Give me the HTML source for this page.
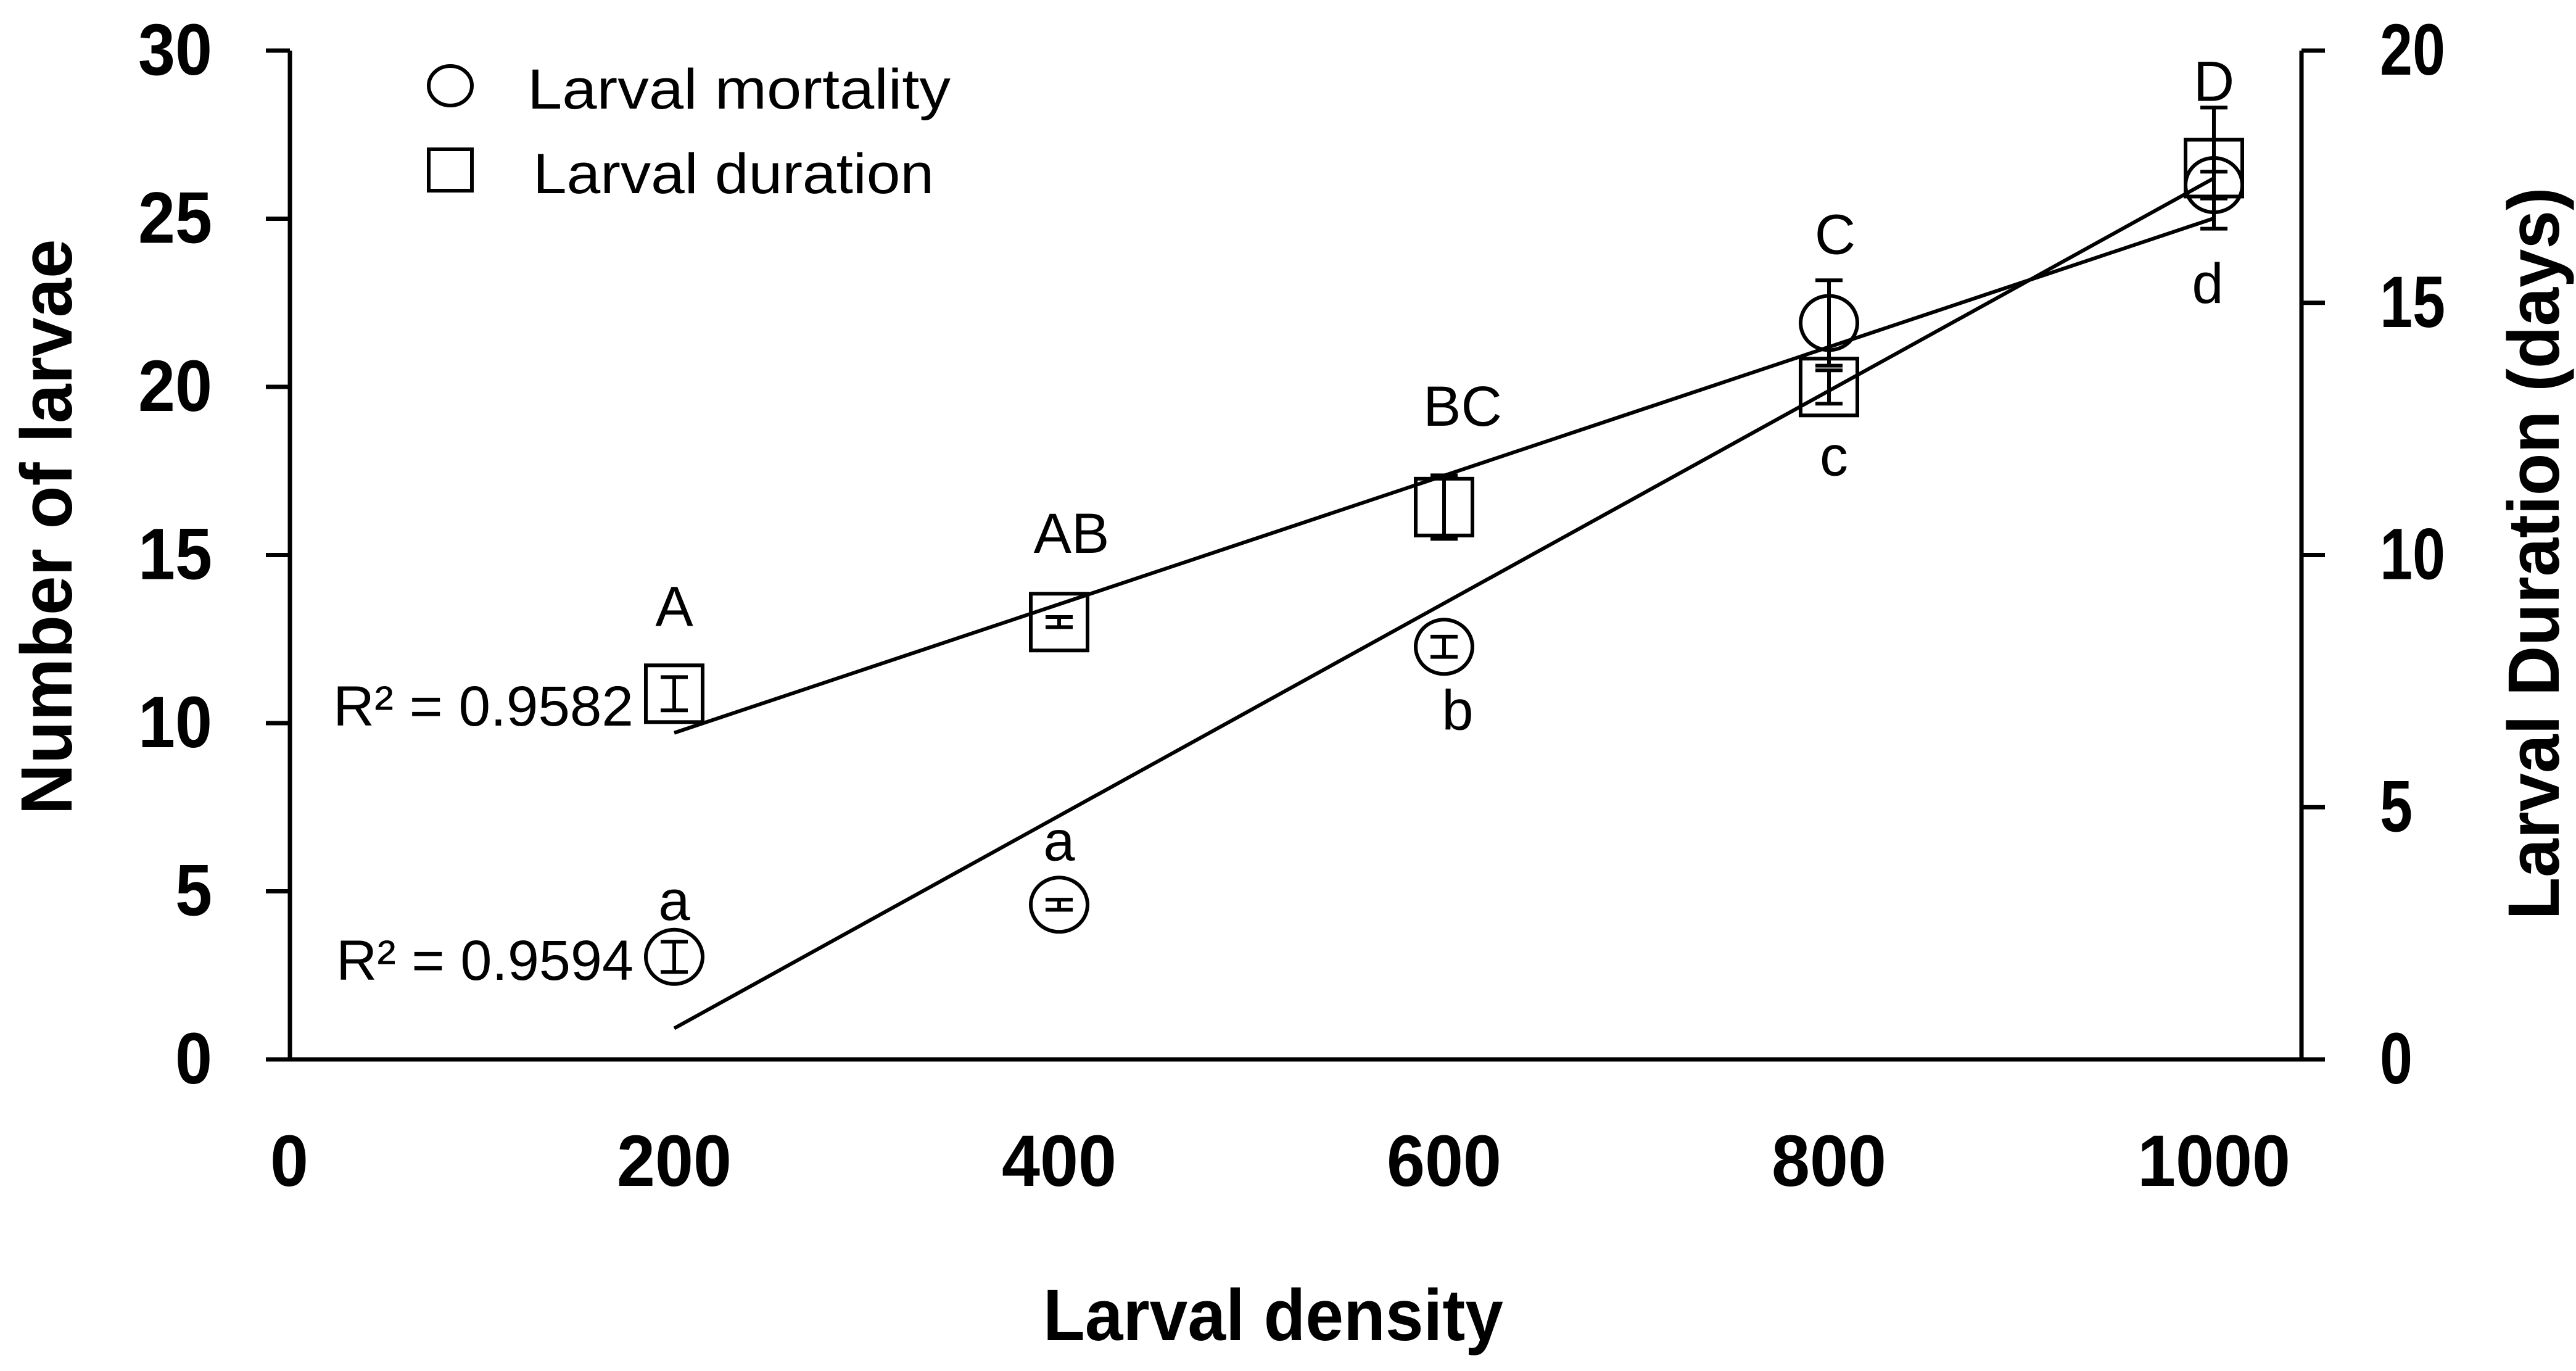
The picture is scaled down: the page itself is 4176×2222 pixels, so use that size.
<!DOCTYPE html>
<html><head><meta charset="utf-8"><style>
html,body{margin:0;padding:0;background:#fff;}
svg{display:block;}
text{font-family:"Liberation Sans",sans-serif;fill:#000;}
</style></head><body>
<svg id="chart" width="4176" height="2222" viewBox="0 0 4176 2222" xmlns="http://www.w3.org/2000/svg">
<g id="axes"></g>
<g id="lines"></g>
<g id="marks"></g>
<g id="labels"></g>
</svg>
<script>
const densities = [200, 400, 600, 800, 1000];
const mortality = [3.05, 4.6, 12.27, 21.9, 26.0];
const mortalityErr = [0.45, 0.15, 0.3, 1.27, 0.4];
const duration = [7.25, 8.67, 10.95, 13.33, 17.67];
const durationErr = [0.33, 0.1, 0.63, 0.33, 1.2];
const upperLetters = ["A", "AB", "BC", "C", "D"];
const lowerLetters = ["a", "a", "b", "c", "d"];
const xTicks = [0, 200, 400, 600, 800, 1000];
const yLeftTicks = [0, 5, 10, 15, 20, 25, 30];
const yRightTicks = [0, 5, 10, 15, 20];

const NS = "http://www.w3.org/2000/svg";
const X0 = 469, XS = 3.12;
const Y0 = 1717, YT = 82;
function xs(v){ return X0 + v*XS; }
function yl(v){ return Y0 - v*(Y0-YT)/30; }
function yr(v){ return Y0 - v*(Y0-YT)/20; }
function mk(tag, attrs, parent){
  const e = document.createElementNS(NS, tag);
  for (const k in attrs) e.setAttribute(k, attrs[k]);
  parent.appendChild(e);
  return e;
}
const axes = document.getElementById('axes');
const lines = document.getElementById('lines');
const marks = document.getElementById('marks');
const labels = document.getElementById('labels');

let a;
a = mk('line', {x1:470, y1:YT, x2:470, y2:Y0, stroke:'#000', 'stroke-width':7}, axes);


a = mk('line', {x1:3731, y1:YT, x2:3731, y2:Y0, stroke:'#000', 'stroke-width':7}, axes);


a = mk('line', {x1:431, y1:Y0, x2:3769, y2:Y0, stroke:'#000', 'stroke-width':7}, axes);



yLeftTicks.forEach(v => {
  const t = mk('line', {x1:431, y1:yl(v), x2:470, y2:yl(v), stroke:'#000', 'stroke-width':7}, axes);
  
  
  const s = String(v);
  const l = mk('text', {x:344, y:yl(v)+39, 'text-anchor':'end', 'font-size':118, 'font-weight':'bold', textLength:s.length*60, lengthAdjust:'spacingAndGlyphs'}, axes);
  l.textContent = s;
  
  
});
yRightTicks.forEach(v => {
  const t = mk('line', {x1:3731, y1:yr(v), x2:3769, y2:yr(v), stroke:'#000', 'stroke-width':7}, axes);
  
  
  const s = String(v);
  const l = mk('text', {x:3858, y:yr(v)+39, 'text-anchor':'start', 'font-size':118, 'font-weight':'bold', textLength:s.length*53, lengthAdjust:'spacingAndGlyphs'}, axes);
  l.textContent = s;
  
  
});
xTicks.forEach(v => {
  const s = String(v);
  const l = mk('text', {x:xs(v), y:1922, 'text-anchor':'middle', 'font-size':118, 'font-weight':'bold', textLength:s.length*62, lengthAdjust:'spacingAndGlyphs'}, axes);
  l.textContent = s;
  
  
});

let tt = mk('text', {x:2064, y:2172, 'text-anchor':'middle', 'font-size':118, 'font-weight':'bold', textLength:746, lengthAdjust:'spacingAndGlyphs'}, axes);
tt.textContent = 'Larval density';


tt = mk('text', {x:0, y:0, 'text-anchor':'middle', 'font-size':118, 'font-weight':'bold', textLength:933, lengthAdjust:'spacingAndGlyphs', transform:'translate(116,854) rotate(-90)'}, axes);
tt.textContent = 'Number of larvae';


tt = mk('text', {x:0, y:0, 'text-anchor':'middle', 'font-size':118, 'font-weight':'bold', textLength:1187, lengthAdjust:'spacingAndGlyphs', transform:'translate(4148,897) rotate(-90)'}, axes);
tt.textContent = 'Larval Duration (days)';



function fit(xsArr, ysArr){
  const n = xsArr.length;
  const mx = xsArr.reduce((p,c)=>p+c,0)/n, my = ysArr.reduce((p,c)=>p+c,0)/n;
  let num=0, den=0;
  for (let i=0;i<n;i++){ num += (xsArr[i]-mx)*(ysArr[i]-my); den += (xsArr[i]-mx)**2; }
  const b = num/den;
  return v => my + b*(v-mx);
}
const fm = fit(densities, mortality);
const fd = fit(densities, duration);
const xa = densities[0], xb = densities[densities.length-1];
let tl = mk('line', {x1:xs(xa), y1:yl(fm(xa)), x2:xs(xb), y2:yl(fm(xb)), stroke:'#000', 'stroke-width':6}, lines);


tl = mk('line', {x1:xs(xa), y1:yr(fd(xa)), x2:xs(xb), y2:yr(fd(xb)), stroke:'#000', 'stroke-width':6}, lines);



function errbar(cx, cyTop, cyBot, name){
  const g = mk('g', {stroke:'#000', 'stroke-width':6}, marks);
  
  
  mk('line', {x1:cx, y1:cyTop, x2:cx, y2:cyBot}, g);
  mk('line', {x1:cx-22, y1:cyTop, x2:cx+22, y2:cyTop}, g);
  mk('line', {x1:cx-22, y1:cyBot, x2:cx+22, y2:cyBot}, g);
}
// anchor: 'd' = duration square, 'm' = mortality circle
const upperAnchor = ['d','d','d','m','d'];
const upperOff = [[0,-110],[20,-112],[30,-132],[10,-112],[0,-109]];
const lowerAnchor = ['m','m','m','d','m'];
const lowerOff = [[0,-60],[0,-72],[22,134],[8,143],[-10,191]];
densities.forEach((d,i) => {
  const cx = xs(d);
  const sy = yr(duration[i]);
  const sq = mk('rect', {x:cx-46, y:sy-46, width:92, height:92, fill:'none', stroke:'#000', 'stroke-width':6}, marks);
  
  
  errbar(cx, yr(duration[i]+durationErr[i]), yr(duration[i]-durationErr[i]), 'duration-error-bar');
  const my = yl(mortality[i]);
  const c = mk('ellipse', {cx:cx, cy:my, rx:46, ry:44, fill:'none', stroke:'#000', 'stroke-width':6}, marks);
  
  
  errbar(cx, yl(mortality[i]+mortalityErr[i]), yl(mortality[i]-mortalityErr[i]), 'mortality-error-bar');
  const uy = upperAnchor[i] === 'd' ? sy : my;
  const L1 = mk('text', {x:cx+upperOff[i][0], y:uy+upperOff[i][1], 'text-anchor':'middle', 'font-size':92}, labels);
  L1.textContent = upperLetters[i];
  
  
  const ly = lowerAnchor[i] === 'd' ? sy : my;
  const L2 = mk('text', {x:cx+lowerOff[i][0], y:ly+lowerOff[i][1], 'text-anchor':'middle', 'font-size':92}, labels);
  L2.textContent = lowerLetters[i];
  
  
});

let r = mk('text', {x:540, y:1176, 'font-size':92, textLength:487, lengthAdjust:'spacingAndGlyphs'}, labels);
r.textContent = 'R² = 0.9582';


r = mk('text', {x:545, y:1588, 'font-size':92, textLength:482, lengthAdjust:'spacingAndGlyphs'}, labels);
r.textContent = 'R² = 0.9594';



const lg = mk('g', {}, labels);


let le = mk('ellipse', {cx:730, cy:139, rx:35, ry:32, fill:'none', stroke:'#000', 'stroke-width':6}, lg);


le = mk('text', {x:855, y:176, 'font-size':92, textLength:686, lengthAdjust:'spacingAndGlyphs'}, lg);
le.textContent = 'Larval mortality';


le = mk('rect', {x:695, y:242, width:70, height:67, fill:'none', stroke:'#000', 'stroke-width':6}, lg);


le = mk('text', {x:864, y:313, 'font-size':92, textLength:650, lengthAdjust:'spacingAndGlyphs'}, lg);
le.textContent = 'Larval duration';


</script>
</body></html>
